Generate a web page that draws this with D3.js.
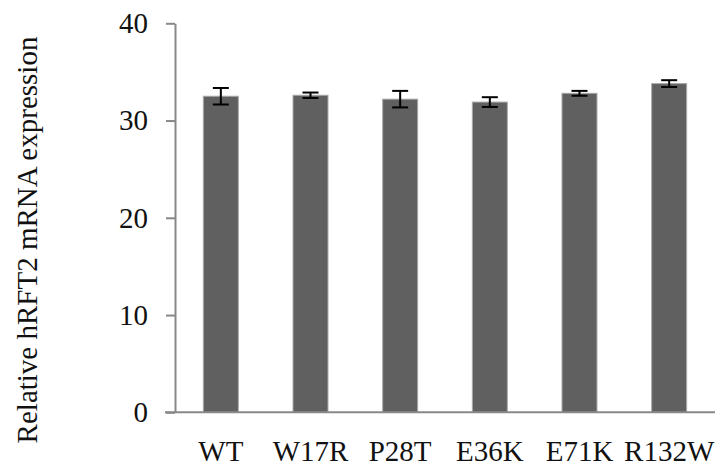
<!DOCTYPE html>
<html>
<head>
<meta charset="utf-8">
<script src="https://cdn.jsdelivr.net/npm/d3@7"></script>
<style>
  html, body { margin: 0; padding: 0; background: #fff; }
  svg { display: block; }
  text { font-family: "Liberation Serif", "Times New Roman", serif; fill: #111; }
</style>
</head>
<body>
<svg id="chart" width="715" height="466"></svg>
<script>
const categories = ["WT", "W17R", "P28T", "E36K", "E71K", "R132W"];
const values = [32.5, 32.6, 32.2, 31.9, 32.8, 33.8];
const errors = [0.85, 0.28, 0.85, 0.5, 0.25, 0.35];
const yTicks = [0, 10, 20, 30, 40];
const yTitle = "Relative hRFT2 mRNA expression";

const svg = d3.select("#chart");
const W = 715, H = 466;
const x0 = 175, x1 = 714, yBottom = 412.3, yTop = 23.3;

const x = d3.scaleBand().domain(categories).range([x0 + 1, x1]).paddingInner(0.61).paddingOuter(0.305);
const y = d3.scaleLinear().domain([0, 40]).range([yBottom, yTop]);

const data = categories.map((c, i) => ({ c, v: values[i], e: errors[i] }));

// Bars
svg.append("g").selectAll("rect").data(data).join("rect")
  .attr("x", d => x(d.c))
  .attr("y", d => y(d.v))
  .attr("width", x.bandwidth())
  .attr("height", d => y(0) - y(d.v))
  .attr("fill", "#606060")
  .attr("stroke", "#a8a8a8")
  .attr("stroke-width", 1);

// Error bars
const eg = svg.append("g").attr("stroke", "#000").attr("stroke-width", 2);
data.forEach(d => {
  const cx = x(d.c) + x.bandwidth() / 2;
  eg.append("line").attr("x1", cx).attr("x2", cx).attr("y1", y(d.v + d.e)).attr("y2", y(d.v - d.e));
  eg.append("line").attr("x1", cx - 8).attr("x2", cx + 8).attr("y1", y(d.v + d.e)).attr("y2", y(d.v + d.e));
  eg.append("line").attr("x1", cx - 8).attr("x2", cx + 8).attr("y1", y(d.v - d.e)).attr("y2", y(d.v - d.e));
});

// Y axis
const yAxis = svg.append("g").attr("transform", `translate(${x0},0)`)
  .call(d3.axisLeft(y).tickValues(yTicks).tickSize(9).tickPadding(18).tickSizeOuter(0));
yAxis.select(".domain").attr("stroke", "#888").attr("stroke-width", 2);
yAxis.selectAll(".tick line").attr("stroke", "#888").attr("stroke-width", 2);
yAxis.selectAll(".tick text").attr("font-size", 29).attr("font-family", "Liberation Serif").attr("fill", "#111");

// X axis
const xAxis = svg.append("g").attr("transform", `translate(0,${yBottom})`)
  .call(d3.axisBottom(x).tickSize(0).tickPadding(28).tickSizeOuter(0));
xAxis.select(".domain").remove();
xAxis.append("line").attr("x1", x0 - 10).attr("x2", W).attr("y1", 0).attr("y2", 0)
  .attr("stroke", "#888").attr("stroke-width", 2);
xAxis.selectAll(".tick text").attr("font-size", 29).attr("font-family", "Liberation Serif").attr("fill", "#111");

// Y title
svg.append("text")
  .attr("transform", `translate(37,240) rotate(-90)`)
  .attr("text-anchor", "middle")
  .attr("font-size", 29)
  .text(yTitle);
</script>
</body>
</html>
